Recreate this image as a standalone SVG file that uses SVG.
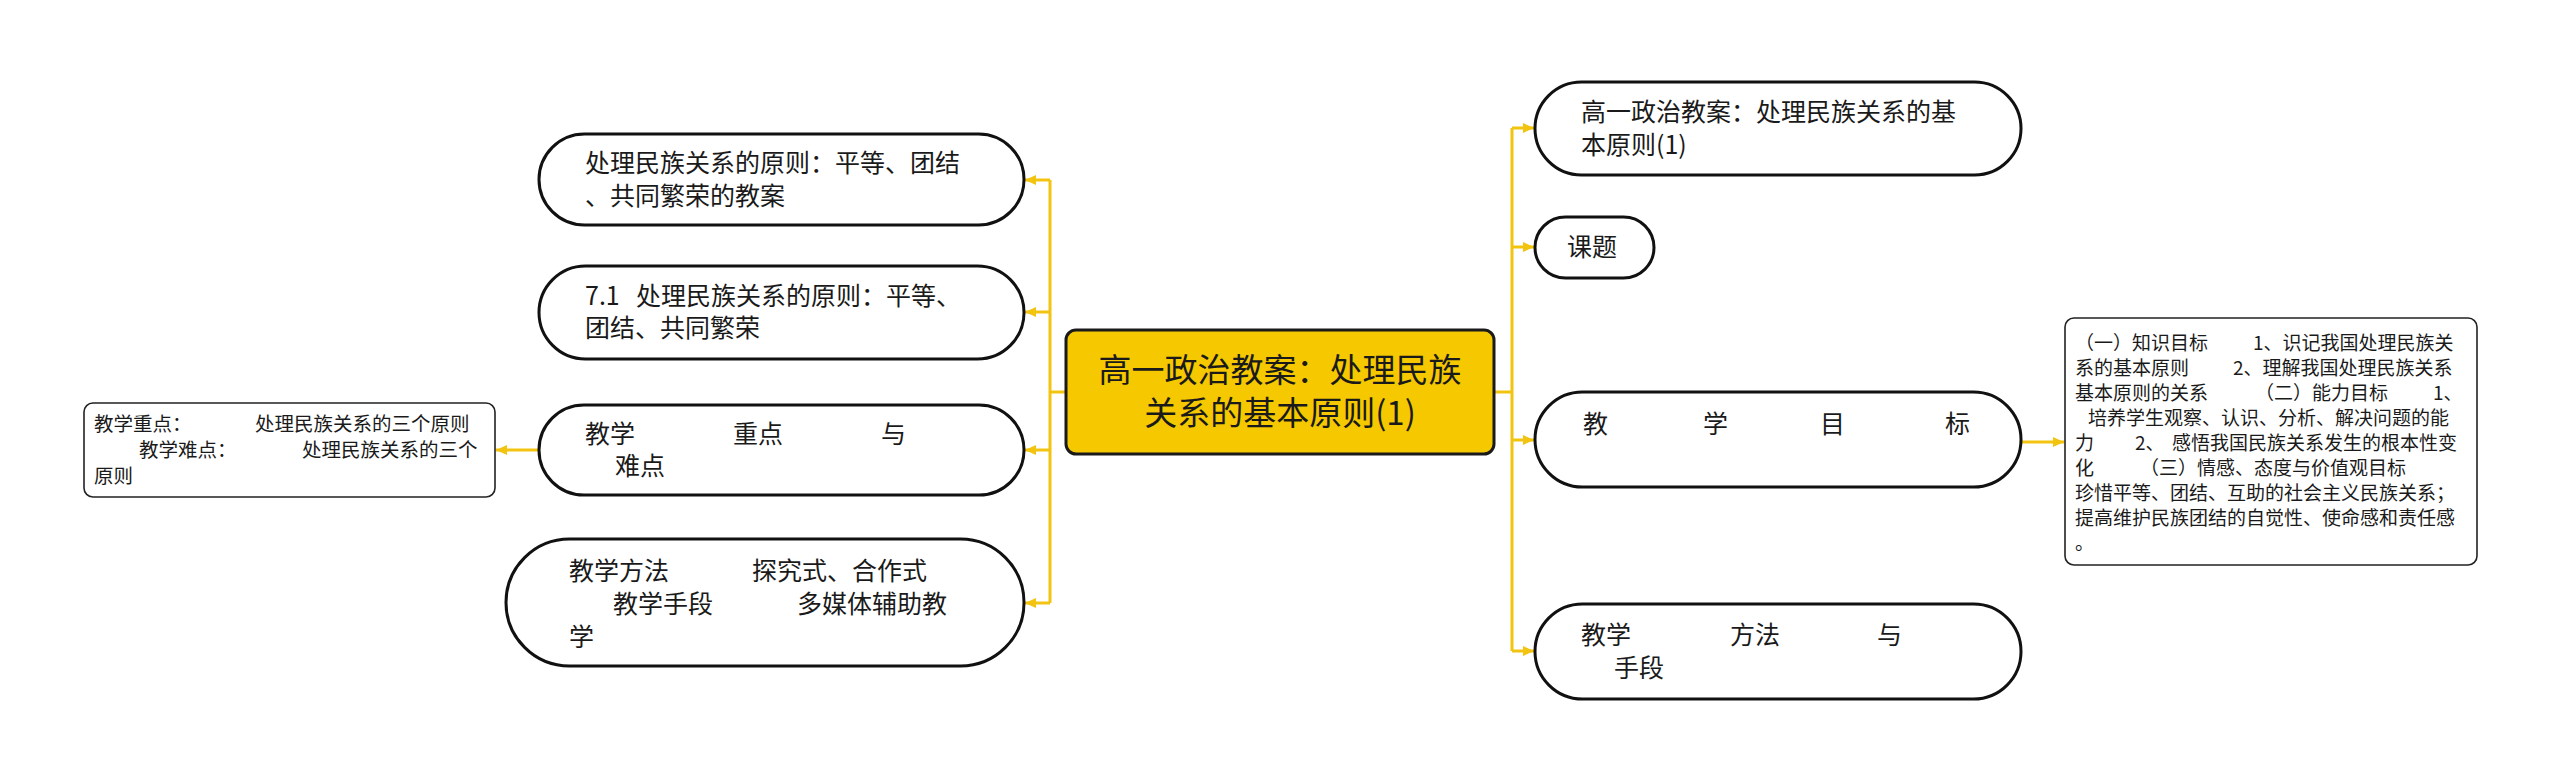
<svg xmlns="http://www.w3.org/2000/svg" width="2560" height="783" viewBox="0 0 2560 783">
<style>
.pill{fill:#fff;stroke:#111;stroke-width:3}
.box{fill:#fff;stroke:#222;stroke-width:1.6}
.root{fill:#F5C800;stroke:#1a1a1a;stroke-width:3}
.t{font-family:"Noto Sans CJK SC","Noto Sans",sans-serif;fill:#1a1a1a}
.t25{font-size:25px}
.t19{font-size:19.5px}
.t19r{font-size:19px}
.t33{font-size:33px}
.c{fill:none;stroke:#F2C30F;stroke-width:3}
</style>
<defs>
<marker id="ah" markerUnits="userSpaceOnUse" markerWidth="12" markerHeight="12" refX="11" refY="6" orient="auto">
<path d="M0,1 L11,6 L0,11 z" fill="#F2C30F"/>
</marker>
</defs>
<rect width="2560" height="783" fill="#fff"/>
<g id="connectors">
<path class="c" d="M1066 392 H1050 M1050 180 V603 M1494 392 H1512 M1512 128 V651"/>
<path class="c" d="M1050 180 H1025" marker-end="url(#ah)"/>
<path class="c" d="M1050 312 H1025" marker-end="url(#ah)"/>
<path class="c" d="M1050 450 H1025" marker-end="url(#ah)"/>
<path class="c" d="M1050 603 H1025" marker-end="url(#ah)"/>
<path class="c" d="M539 450 H496" marker-end="url(#ah)"/>
<path class="c" d="M1512 128 H1534" marker-end="url(#ah)"/>
<path class="c" d="M1512 247 H1534" marker-end="url(#ah)"/>
<path class="c" d="M1512 440 H1534" marker-end="url(#ah)"/>
<path class="c" d="M1512 651 H1534" marker-end="url(#ah)"/>
<path class="c" d="M2021 442 H2064" marker-end="url(#ah)"/>
</g>
<g id="root">
<rect class="root" x="1066" y="330" width="428" height="124" rx="10"/>
<text class="t t33" text-anchor="middle"><tspan x="1280" y="382">高一政治教案：处理民族</tspan><tspan x="1280" y="425">关系的基本原则(1)</tspan></text>
</g>
<g id="L1">
<rect class="pill" x="539" y="134" width="485" height="91" rx="45.5"/>
<text class="t t25"><tspan x="585" y="172">处理民族关系的原则：平等、团结</tspan><tspan x="585" y="205">、共同繁荣的教案</tspan></text>
</g>
<g id="L2">
<rect class="pill" x="539" y="266" width="485" height="93" rx="46.5"/>
<text class="t t25"><tspan x="585" y="305">7.1</tspan><tspan x="636" y="305">处理民族关系的原则：平等、</tspan><tspan x="585" y="337">团结、共同繁荣</tspan></text>
</g>
<g id="L3">
<rect class="pill" x="539" y="405" width="485" height="90" rx="45"/>
<text class="t t25"><tspan x="585" y="443">教学</tspan><tspan x="733" y="443">重点</tspan><tspan x="881" y="443">与</tspan><tspan x="615" y="475">难点</tspan></text>
</g>
<g id="L4">
<rect class="pill" x="506" y="539" width="518" height="127" rx="63.5"/>
<text class="t t25"><tspan x="569" y="580">教学方法</tspan><tspan x="752" y="580">探究式、合作式</tspan><tspan x="613" y="613">教学手段</tspan><tspan x="797" y="613">多媒体辅助教</tspan><tspan x="569" y="646">学</tspan></text>
</g>
<g id="LL">
<rect class="box" x="84" y="403" width="411" height="94" rx="9"/>
<text class="t t19"><tspan x="94" y="431">教学重点：</tspan><tspan x="255" y="431">处理民族关系的三个原则</tspan><tspan x="139" y="457">教学难点：</tspan><tspan x="302" y="457">处理民族关系的三个</tspan><tspan x="94" y="483">原则</tspan></text>
</g>
<g id="R1">
<rect class="pill" x="1535" y="82" width="486" height="93" rx="46.5"/>
<text class="t t25"><tspan x="1581" y="121">高一政治教案：处理民族关系的基</tspan><tspan x="1581" y="154">本原则(1)</tspan></text>
</g>
<g id="R2">
<rect class="pill" x="1535" y="217" width="119" height="61" rx="30.5"/>
<text class="t t25"><tspan x="1567" y="256">课题</tspan></text>
</g>
<g id="R3">
<rect class="pill" x="1535" y="392" width="486" height="95" rx="47.5"/>
<text class="t t25"><tspan x="1583" y="433">教</tspan><tspan x="1703" y="433">学</tspan><tspan x="1820" y="433">目</tspan><tspan x="1945" y="433">标</tspan></text>
</g>
<g id="R4">
<rect class="pill" x="1535" y="604" width="486" height="95" rx="47.5"/>
<text class="t t25"><tspan x="1581" y="644">教学</tspan><tspan x="1730" y="644">方法</tspan><tspan x="1877" y="644">与</tspan><tspan x="1614" y="677">手段</tspan></text>
</g>
<g id="RR">
<rect class="box" x="2065" y="318" width="412" height="247" rx="9"/>
<text class="t t19r"><tspan x="2075" y="350">（一）知识目标</tspan><tspan x="2253" y="350">1、识记我国处理民族关</tspan><tspan x="2075" y="375">系的基本原则</tspan><tspan x="2233" y="375">2、理解我国处理民族关系</tspan><tspan x="2075" y="400">基本原则的关系</tspan><tspan x="2255" y="400">（二）能力目标</tspan><tspan x="2433" y="400">1、</tspan><tspan x="2088" y="425">培养学生观察、认识、分析、解决问题的能</tspan><tspan x="2075" y="450">力</tspan><tspan x="2135" y="450">2、</tspan><tspan x="2172" y="450">感悟我国民族关系发生的根本性变</tspan><tspan x="2075" y="475">化</tspan><tspan x="2140" y="475">（三）情感、态度与价值观目标</tspan><tspan x="2075" y="500">珍惜平等、团结、互助的社会主义民族关系；</tspan><tspan x="2075" y="525">提高维护民族团结的自觉性、使命感和责任感</tspan><tspan x="2075" y="550">。</tspan></text>
</g>
</svg>
